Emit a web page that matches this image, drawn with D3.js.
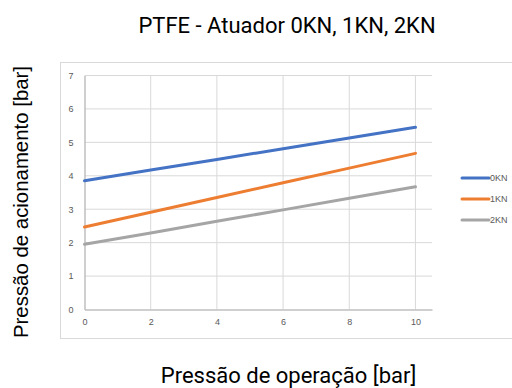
<!DOCTYPE html>
<html><head><meta charset="utf-8">
<script src="https://cdn.jsdelivr.net/npm/d3@7"></script>
<style>body{margin:0;background:#fff}svg{display:block}</style>
</head><body>
<svg id="c" width="512" height="388"></svg>
<script>
const xValues = [0, 2, 4, 6, 8, 10];
const seriesNames = ["0KN", "1KN", "2KN"];
const s0KN = [3.85, 4.17, 4.49, 4.81, 5.13, 5.45];
const s1KN = [2.47, 2.91, 3.35, 3.79, 4.23, 4.67];
const s2KN = [1.95, 2.29, 2.64, 2.98, 3.33, 3.67];
const xTicks = [0, 2, 4, 6, 8, 10];
const yTicks = [0, 1, 2, 3, 4, 5, 6, 7];
const colors = ["#4472C4", "#ED7D31", "#A5A5A5"];

const series = [s0KN, s1KN, s2KN].map((v, i) => ({name: seriesNames[i], values: v.map((y, j) => ({x: xValues[j], y}))}));

const svg = d3.select("#c");
svg.append("rect").attr("x", 60.5).attr("y", 62.5).attr("width", 470).attr("height", 276)
  .attr("fill", "#fff").attr("stroke", "#d9d9d9").attr("stroke-width", 1);

const x = d3.scaleLinear().domain([0, 10.5]).range([84.5, 432]);
const y = d3.scaleLinear().domain([0, 7]).range([309.5, 75.5]);

// gridlines
svg.append("g").selectAll("line").data(yTicks.filter(d => d > 0)).join("line")
  .attr("x1", x(0)).attr("x2", x(10.5)).attr("y1", d => y(d)).attr("y2", d => y(d))
  .attr("stroke", "#d9d9d9").attr("stroke-width", 1);
svg.append("g").selectAll("line").data(xTicks.filter(d => d > 0)).join("line")
  .attr("x1", d => x(d)).attr("x2", d => x(d)).attr("y1", y(0)).attr("y2", y(7))
  .attr("stroke", "#d9d9d9").attr("stroke-width", 1);

// axes
const gx = svg.append("g").attr("transform", `translate(0,${y(0)})`)
  .call(d3.axisBottom(x).tickValues(xTicks).tickFormat(d3.format("d")).tickSize(0).tickPadding(9));
gx.select(".domain").attr("stroke", "#bfbfbf").attr("stroke-width", 1.5);
gx.selectAll("text").attr("fill", "#595959").attr("font-size", 9).attr("font-family", "Liberation Sans, Arial, sans-serif");

const gy = svg.append("g").attr("transform", `translate(${x(0)},0)`)
  .call(d3.axisLeft(y).tickValues(yTicks).tickFormat(d3.format("d")).tickSize(0).tickPadding(11));
gy.select(".domain").attr("stroke", "#bfbfbf").attr("stroke-width", 1.5);
gy.selectAll("text").attr("fill", "#595959").attr("font-size", 9).attr("font-family", "Liberation Sans, Arial, sans-serif");

// lines
const line = d3.line().x(d => x(d.x)).y(d => y(d.y));
svg.append("g").selectAll("path").data(series).join("path")
  .attr("d", d => line(d.values)).attr("fill", "none")
  .attr("stroke", (d, i) => colors[i]).attr("stroke-width", 3).attr("stroke-linecap", "round");

// legend
const lg = svg.append("g").selectAll("g").data(series).join("g")
  .attr("transform", (d, i) => `translate(462,${178 + i * 21})`);
lg.append("line").attr("x1", 0).attr("x2", 27).attr("stroke", (d, i) => colors[i]).attr("stroke-width", 3).attr("stroke-linecap", "round");
lg.append("text").attr("x", 28).attr("dy", "0.35em").text(d => d.name)
  .attr("fill", "#595959").attr("font-size", 9).attr("font-family", "Liberation Sans, Arial, sans-serif");

// titles
svg.append("text").attr("x", 287).attr("y", 32.5).attr("text-anchor", "middle")
  .attr("font-family", "Roboto, sans-serif").attr("font-size", 22).attr("fill", "#000")
  .text("PTFE - Atuador 0KN, 1KN, 2KN");
svg.append("text").attr("x", 288.5).attr("y", 383).attr("text-anchor", "middle")
  .attr("font-family", "Roboto, sans-serif").attr("font-size", 22).attr("fill", "#000")
  .text("Pressão de operação [bar]");
svg.append("text").attr("transform", "translate(28,202) rotate(-90)").attr("text-anchor", "middle")
  .attr("font-family", "Liberation Sans, Arial, sans-serif").attr("font-size", 20.4).attr("fill", "#000")
  .text("Pressão de acionamento [bar]");
</script>
</body></html>
